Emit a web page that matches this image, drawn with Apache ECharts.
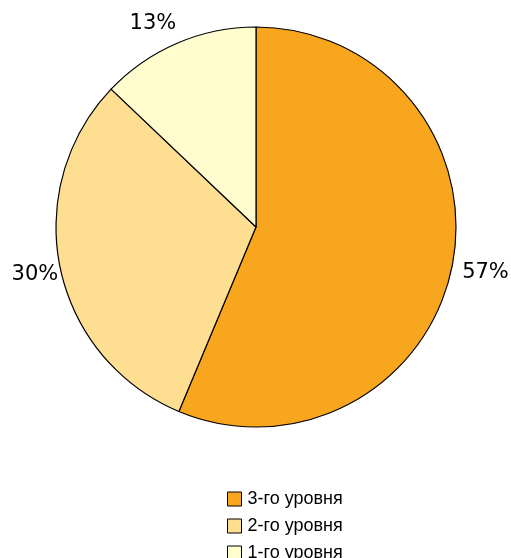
<!DOCTYPE html>
<html><head><meta charset="utf-8">
<script src="https://cdn.jsdelivr.net/npm/echarts@6/dist/echarts.min.js"></script>
<style>html,body{margin:0;padding:0;background:#fff}#c{width:511px;height:558px}</style>
</head><body><div id="c"></div>
<script>
const categories = ['3-го уровня', '2-го уровня', '1-го уровня'];
const values = [56.3, 30.8, 12.9];
const labels = ['57%', '30%', '13%'];
const colors = ['#F8A61D', '#FEDF92', '#FFFDCD'];
const labelOffsets = [[3, 0], [5, 0], [-12, 9]];

const chart = echarts.init(document.getElementById('c'), null, {renderer: 'canvas'});
chart.setOption({
  animation: false,
  legend: {
    orient: 'vertical',
    left: 222,
    top: 485,
    height: 120,
    itemWidth: 14,
    itemHeight: 14,
    itemGap: 9,
    icon: 'rect',
    itemStyle: {borderColor: '#000', borderWidth: 1},
    textStyle: {fontFamily: 'Liberation Sans, Arial', fontSize: 18, color: '#000', padding: [0,0,0,1]},
    data: categories
  },
  series: [{
    type: 'pie',
    center: [256, 227],
    radius: [0, 200],
    startAngle: 90,
    clockwise: true,
    label: {show: false},
    labelLine: {show: false},
    itemStyle: {borderColor: '#000', borderWidth: 1.2},
    emphasis: {disabled: true},
    data: categories.map((n, i) => ({name: n, value: values[i], itemStyle: {color: colors[i]}}))
  }, {
    type: 'pie',
    center: [256, 227],
    radius: [0, 456],
    startAngle: 90,
    clockwise: true,
    silent: true,
    z: 1,
    label: {
      show: true,
      position: 'inside',
      formatter: p => labels[p.dataIndex],
      fontFamily: 'DejaVu Sans, Verdana',
      fontSize: 21,
      color: '#000'
    },
    labelLine: {show: false},
    itemStyle: {color: 'rgba(0,0,0,0)', borderWidth: 0},
    emphasis: {disabled: true},
    data: categories.map((n, i) => ({name: n, value: values[i], label: {offset: labelOffsets[i]}}))
  }]
});
</script></body></html>
